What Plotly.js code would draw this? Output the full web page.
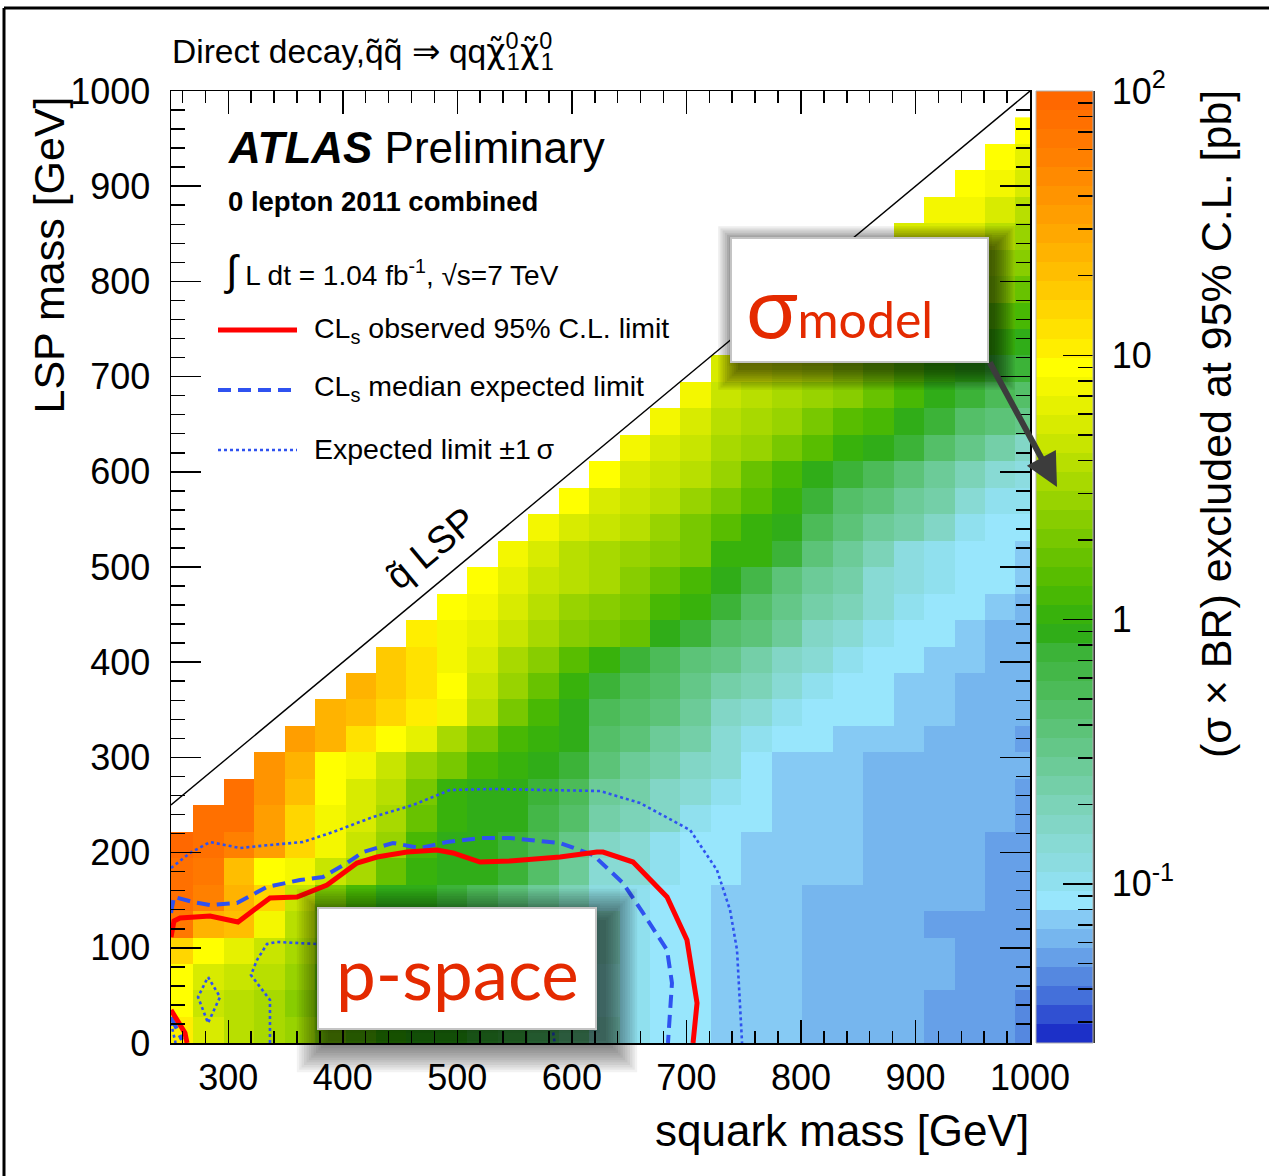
<!DOCTYPE html>
<html><head><meta charset="utf-8">
<script src="https://cdn.plot.ly/plotly-3.0.1.min.js"></script>
<style>html,body{margin:0;padding:0;background:#fff;}#chart{width:1269px;height:1176px;}</style>
</head><body><div id="chart"></div>
<script>
// ---------------- data ----------------
// grid of the exclusion histogram (bin centres / widths in GeV)
const squarkBin0 = 256.2, squarkBinWidth = 26.59;
const lspBin0 = 13.89, lspBinWidth = 27.78;
// colour-level (0..49, log scale 0.025..100 pb) of excluded sigma x BR, row = LSP bin (from 0), listed from the first bin below the diagonal
const limitBands = [
 [36,32,30,29,28,26,24,22,21,21,20,19,17,15,11,8,7,7,6,6,6,5,5,5,5,4,4,4,3],
 [35,31,30,29,27,25,23,21,21,20,19,18,16,14,10,8,7,7,6,6,6,5,5,5,5,4,4,4,3],
 [35,32,31,30,28,24,23,22,21,20,19,17,16,14,10,8,7,7,6,6,6,5,5,5,5,5,4,4,4],
 [38,35,33,31,29,26,24,23,21,20,19,18,16,14,11,8,7,7,6,6,6,5,5,5,5,5,4,4,4],
 [47,41,40,34,30,27,25,22,21,21,19,18,16,14,11,8,7,7,6,6,6,5,5,5,5,4,4,4,4],
 [48,46,41,38,31,26,23,21,21,20,18,16,14,12,9,8,7,7,6,6,6,5,5,5,5,5,5,4,4],
 [48,47,40,35,34,31,29,25,22,21,21,20,17,14,10,10,8,7,7,6,6,6,6,5,5,5,5,4,4],
 [49,48,46,43,38,34,31,28,23,21,21,20,18,15,11,10,8,7,7,6,6,6,6,5,5,5,5,4,4],
 [48,48,43,38,34,32,29,25,22,21,21,19,17,13,12,11,8,7,7,6,6,6,5,5,5,5,5,4],
 [48,44,40,35,32,30,26,22,21,21,20,18,14,13,11,10,8,7,6,6,6,5,5,5,5,5,4],
 [44,41,35,34,31,28,26,23,22,21,20,16,14,13,11,10,7,6,6,6,5,5,5,5,5,5],
 [43,41,37,35,33,29,26,23,22,21,17,16,14,13,10,8,7,7,6,6,6,5,5,5,4],
 [41,40,38,36,34,30,26,23,21,18,17,16,14,11,10,8,7,7,7,6,6,5,5,5],
 [41,39,37,35,31,28,25,22,20,18,17,15,13,12,10,8,7,7,6,6,5,5,5],
 [39,37,34,32,29,27,24,22,20,18,16,15,13,11,10,8,7,7,6,6,5,5],
 [36,34,33,31,29,27,26,25,21,20,17,16,14,11,10,8,7,7,6,5,5],
 [35,34,32,30,28,27,26,23,22,20,17,15,13,12,10,8,7,7,6,5],
 [35,33,31,30,29,27,25,23,21,19,16,14,13,10,9,8,7,7,6],
 [34,32,30,29,28,27,26,22,22,20,16,14,12,9,8,7,7,6],
 [34,32,31,30,28,26,24,22,21,18,16,14,13,11,8,7,7],
 [35,32,31,30,28,26,24,22,20,17,16,14,13,10,8,8],
 [35,32,31,30,28,25,23,21,20,18,16,14,12,10,9],
 [34,32,31,29,28,26,24,22,21,20,17,15,13,11],
 [34,32,30,29,28,26,24,23,21,20,17,16,15],
 [34,31,30,29,28,27,25,23,21,20,18,17],
 [32,32,31,30,28,26,24,22,21,20,20],
 [33,32,31,29,28,26,25,23,22,21],
 [33,32,30,29,28,27,26,24,23],
 [33,32,31,29,28,28,27,25],
 [33,33,31,30,30,28,27],
 [32,32,32,30,28],
 [34,34,32,30],
 [35,34,32],
 [35,33],
 [35]
];
// contours (squark mass, LSP mass) in GeV
const obsX = [250,252.6,257.9,284.1,308.5,336.4,360.0,386.2,412.4,429.9,456.1,482.2,496.2,519.8,546.0,589.6,621.9,627.2,653.4,683.1,700.5,709.3,705.8];
const obsY = [111.3,128.2,131.3,133.4,127.1,152.3,153.4,166.0,189.1,195.4,200.6,202.7,199.6,190.1,191.2,195.4,200.6,200.6,190.1,153.4,108.2,42.0,0];
const obsCornerX = [250,262.2,264.0];
const obsCornerY = [34.7,10.5,0];
const expX = [250,252.6,269.2,284.1,307.6,333.8,362.6,382.7,403.7,417.6,443.8,467.4,491.0,519.8,546.0,589.6,618.5,644.6,662.1,683.1,687.4,683.9];
const expY = [136.6,153.4,148.1,144.9,147.1,163.9,171.2,174.4,189.1,200.6,210.1,204.8,211.1,215.3,215.3,210.1,197.5,168.1,136.6,97.7,63.0,0];
const expCornerX = [250,259.6];
const expCornerY = [27.3,3.2];
const upX = [250,266.6,284.1,310.2,336.4,365.2,391.4,426.4,461.3,493.6,531.1,624.6,659.5,703.2,726.7,738.1,744.2,746.8,748.6];
const upY = [183.8,199.6,211.1,204.8,208.0,211.1,221.6,237.4,250.0,265.8,266.8,264.7,252.1,223.7,181.7,139.7,97.7,45.2,0];
const downX = [336.4,336.4,319.8,325.1,333.8,342.5,377.5,450,511,555,579,585];
const downY = [0,45.2,71.4,87.2,104.0,106.1,104.0,103,98,82,50,0];
const islandX = [282.3,292.8,282.3,273.6,282.3];
const islandY = [69.3,48.3,21.0,48.3,69.3];
const dotCornerX = [250,254];
const dotCornerY = [21,0];
const diagX = [250,1000];
const diagY = [250,1000];
// colour bar tick labels
const cbTickVals = [0.1,1,10,100];
const cbTickText = ['10<sup>-1</sup>','1','10','10<sup>2</sup>'];

// ---------------- styling ----------------
const palette = ['#1c30c8','#3050d2','#4470da','#5588e0','#66a0e8','#76b6ee','#86caf4','#98e6fc',
 '#90e0ee','#8cdce0','#88dad4','#82d6c6','#7cd3b8','#74cfa8','#6ccb98','#64c788','#5cc378','#54bf68',
 '#4cbb58','#44b748','#3cb338','#30ad18','#38b20c','#48b804','#58bd00','#68c200','#78c800','#88cd00',
 '#98d300','#a8d900','#b8df00','#c8e500','#d8eb00','#e6f100','#f4f700','#ffff00','#ffee00','#ffe200',
 '#ffd600','#ffca00','#ffbe00','#ffb300','#ffa800','#ff9e00','#ff9400','#ff8a00','#ff8000','#ff7800',
 '#ff7000','#ff6800'];
const NLEV = palette.length;
const LOG_MIN = Math.log10(0.025), LOG_MAX = 2;
const LOG_STEP = (LOG_MAX - LOG_MIN) / NLEV;
const toLog = b => (b === null ? null : LOG_MIN + (b + 0.5) * LOG_STEP);
const colorscale = [];
palette.forEach((c, i) => { colorscale.push([i / NLEV, c]); colorscale.push([(i + 1) / NLEV, c]); });

const nCols = 29;
const zMain = limitBands.map(r => Array(nCols - r.length).fill(null).concat(r).map(toLog));

const cbZ = palette.map((c, i) => [LOG_MIN + (i + 0.5) * LOG_STEP]);
const cbY = Array.from({length: NLEV + 1}, (_, i) => Math.pow(10, LOG_MIN + i * LOG_STEP));
const cbMinor = [];
for (let d = -2; d <= 1; d++) for (let m = 2; m <= 9; m++) { const v = m * Math.pow(10, d); if (v > 0.025 && v < 100) cbMinor.push(v); }

// pixel -> paper helpers
const L = 171, T = 91, PW = 929, PH = 952;
const X = p => (p - L) / PW;
const Y = p => (T + PH - p) / PH;

const FONT = 'Liberation Sans, Arial, Helvetica, sans-serif';
const BLUE = '#2f52f0';

const traces = [
 {type:'heatmap', z:zMain, x0:squarkBin0, dx:squarkBinWidth, y0:lspBin0, dy:lspBinWidth,
  colorscale:colorscale, zmin:LOG_MIN, zmax:LOG_MAX, showscale:false, hoverinfo:'skip', xaxis:'x', yaxis:'y'},
 {type:'scatter', mode:'lines', x:diagX, y:diagY, line:{color:'#000', width:1.4}, hoverinfo:'skip', showlegend:false},
 {type:'scatter', mode:'lines', x:upX, y:upY, line:{color:BLUE, width:2.6, dash:'3px,3px'}, hoverinfo:'skip', showlegend:false},
 {type:'scatter', mode:'lines', x:downX, y:downY, line:{color:BLUE, width:2.6, dash:'3px,3px'}, hoverinfo:'skip', showlegend:false},
 {type:'scatter', mode:'lines', x:islandX, y:islandY, line:{color:BLUE, width:2.6, dash:'3px,3px'}, hoverinfo:'skip', showlegend:false},
 {type:'scatter', mode:'lines', x:dotCornerX, y:dotCornerY, line:{color:BLUE, width:2.6, dash:'3px,3px'}, hoverinfo:'skip', showlegend:false},
 {type:'scatter', mode:'lines', x:expX, y:expY, line:{color:BLUE, width:4, dash:'13px,7px'}, hoverinfo:'skip', showlegend:false},
 {type:'scatter', mode:'lines', x:expCornerX, y:expCornerY, line:{color:BLUE, width:4, dash:'13px,7px'}, hoverinfo:'skip', showlegend:false},
 {type:'scatter', mode:'lines', x:obsX, y:obsY, line:{color:'#ff0000', width:5}, hoverinfo:'skip', showlegend:false},
 {type:'scatter', mode:'lines', x:obsCornerX, y:obsCornerY, line:{color:'#ff0000', width:5}, hoverinfo:'skip', showlegend:false},
 {type:'heatmap', z:cbZ, x:[0,1], y:cbY, colorscale:colorscale, zmin:LOG_MIN, zmax:LOG_MAX, showscale:false,
  hoverinfo:'skip', xaxis:'x2', yaxis:'y2'}
];

// shadows + boxes
const shapes = [];
function shadow(x0, y0, x1, y1, dx, dy, n, step, alpha) {
  for (let i = 0; i < n; i++) {
    const e = i * step;
    shapes.push({type:'rect', xref:'paper', yref:'paper', x0:X(x0 + dx - e), x1:X(x1 + dx + e),
      y0:Y(y1 + dy + e), y1:Y(y0 + dy - e), fillcolor:'rgba(0,0,0,' + alpha + ')', line:{width:0}});
  }
}
function box(x0, y0, x1, y1) {
  shapes.push({type:'rect', xref:'paper', yref:'paper', x0:X(x0), x1:X(x1), y0:Y(y1), y1:Y(y0),
    fillcolor:'#ffffff', line:{color:'#c4c4c4', width:2}});
}
shadow(731, 238, 988, 362, 0, 0, 3, 2, 0.03);
shadow(731, 238, 988, 362, 7, 8, 10, 2.2, 0.07);
box(731, 238, 988, 362);
shadow(318, 908, 596, 1029, 0, 0, 3, 2, 0.03);
shadow(318, 908, 596, 1029, 10, 12, 14, 2.4, 0.05);
box(318, 908, 596, 1029);
// legend samples
shapes.push({type:'line', xref:'paper', yref:'paper', x0:X(218), x1:X(297), y0:Y(330), y1:Y(330), line:{color:'#ff0000', width:5}});
shapes.push({type:'line', xref:'paper', yref:'paper', x0:X(218), x1:X(297), y0:Y(390), y1:Y(390), line:{color:BLUE, width:4, dash:'13px,7px'}});
shapes.push({type:'line', xref:'paper', yref:'paper', x0:X(218), x1:X(297), y0:Y(450), y1:Y(450), line:{color:BLUE, width:2.6, dash:'3px,3px'}});
// colour bar outline
shapes.push({type:'rect', xref:'paper', yref:'paper', x0:X(1036), x1:X(1093), y0:Y(1043), y1:Y(91), line:{color:'#b0b0b0', width:1}, fillcolor:'rgba(0,0,0,0)'});
// outer frame
shapes.push({type:'line', xref:'paper', yref:'paper', x0:X(4), x1:X(1275), y0:Y(8), y1:Y(8), line:{color:'#000', width:3}});
shapes.push({type:'line', xref:'paper', yref:'paper', x0:X(4), x1:X(4), y0:Y(8), y1:Y(1180), line:{color:'#000', width:3}});

function ann(text, x, y, size, opts) {
  return Object.assign({text:text, xref:'paper', yref:'paper', x:X(x), y:Y(y), showarrow:false,
    xanchor:'left', yanchor:'middle', font:{family:FONT, size:size, color:'#000'}}, opts || {});
}
const CHI = '<span style="font-family:DejaVu Sans">\u03c7\u0303</span>';
const STACK = '<span style="letter-spacing:-21px"> </span>';
const annotations = [
  ann('Direct decay,q\u0303q\u0303 \u21d2 qq' + CHI + '<sup>0</sup>' + STACK + '<sub>1</sub>' + CHI + '<sup>0</sup>' + STACK + '<sub>1</sub>', 170, 52, 33.5),
  ann('<b><i>ATLAS</i></b> Preliminary', 226, 147, 44),
  ann('<b>0 lepton 2011 combined</b>', 226, 201, 27.5),
  ann('<span style="font-size:42px">\u222b</span> L dt = 1.04 fb<sup>-1</sup>, \u221as=7 TeV', 222, 270, 28),
  ann('CL<sub>s</sub> observed 95% C.L. limit', 312, 330, 28.5),
  ann('CL<sub>s</sub> median expected limit', 312, 388, 28.5),
  ann('Expected limit \u00b11\u2009\u03c3', 312, 449, 28.5),
  ann('q\u0303 LSP', 431, 548, 38, {xanchor:'center', textangle:-39.7}),
  ann('LSP mass [GeV]', 48, 94, 43, {xanchor:'center', yanchor:'top', textangle:-90}),
  ann('squark mass [GeV]', 1031, 1130, 44, {xanchor:'right'}),
  ann('(\u03c3 \u00d7 BR) excluded at 95% C.L. [pb]', 1216, 88, 43, {xanchor:'center', yanchor:'top', textangle:-90}),
  ann('<span style="font-size:86px">\u03c3</span>model', 744, 304, 50, {font:{family:'Lato, Open Sans, sans-serif', size:50, color:'#e42a00'}}),
  ann('p-space', 457, 972, 71, {xanchor:'center', font:{family:'Lato, Open Sans, sans-serif', size:71, color:'#e42a00'}}),
  {text:'', xref:'paper', yref:'paper', x:X(1057), y:Y(487), ax:-68, ay:-126, showarrow:true,
   arrowhead:2, arrowsize:1.1, arrowwidth:6, arrowcolor:'#3c3c3c', standoff:0, startstandoff:0}
];

const axisCommon = {showline:true, linecolor:'#000', linewidth:1.5, mirror:'ticks', ticks:'inside',
  tickcolor:'#000', tickwidth:1.5, showgrid:false, zeroline:false,
  tickfont:{family:FONT, size:36, color:'#000'}};

const layout = {
  width:1269, height:1176, autosize:false,
  margin:{l:L, r:1269 - L - PW, t:T, b:1176 - T - PH, pad:0},
  paper_bgcolor:'#fff', plot_bgcolor:'#fff', showlegend:false,
  xaxis: Object.assign({}, axisCommon, {domain:[0, 859 / PW], range:[250, 1000], tickmode:'linear', tick0:0, dtick:100,
    ticklen:23, ticklabelstandoff:2, minor:{dtick:20, tick0:0, ticks:'inside', ticklen:12, tickcolor:'#000', tickwidth:1.5}, anchor:'y'}),
  yaxis: Object.assign({}, axisCommon, {domain:[0, 1], range:[0, 1000], tickmode:'linear', tick0:0, dtick:100,
    ticklen:30, ticklabelstandoff:12, minor:{dtick:20, tick0:0, ticks:'inside', ticklen:14, tickcolor:'#000', tickwidth:1.5}, anchor:'x'}),
  xaxis2: {domain:[X(1036), X(1093)], range:[0, 1], visible:false, anchor:'y2', fixedrange:true},
  yaxis2: {anchor:'x2', side:'right', type:'log', range:[LOG_MIN, LOG_MAX], domain:[0, 1],
    showline:true, linecolor:'#333', linewidth:1.5, ticks:'inside', ticklen:30, tickwidth:1.5, tickcolor:'#000',
    tickmode:'array', tickvals:cbTickVals, ticktext:cbTickText, showgrid:false, zeroline:false,
    tickfont:{family:FONT, size:36, color:'#000'}, ticklabelstandoff:10,
    minor:{tickmode:'array', tickvals:cbMinor, ticks:'inside', ticklen:15, tickwidth:1.5, tickcolor:'#000'}},
  shapes:shapes, annotations:annotations
};

Plotly.newPlot('chart', traces, layout, {staticPlot:true, displayModeBar:false});
</script></body></html>
